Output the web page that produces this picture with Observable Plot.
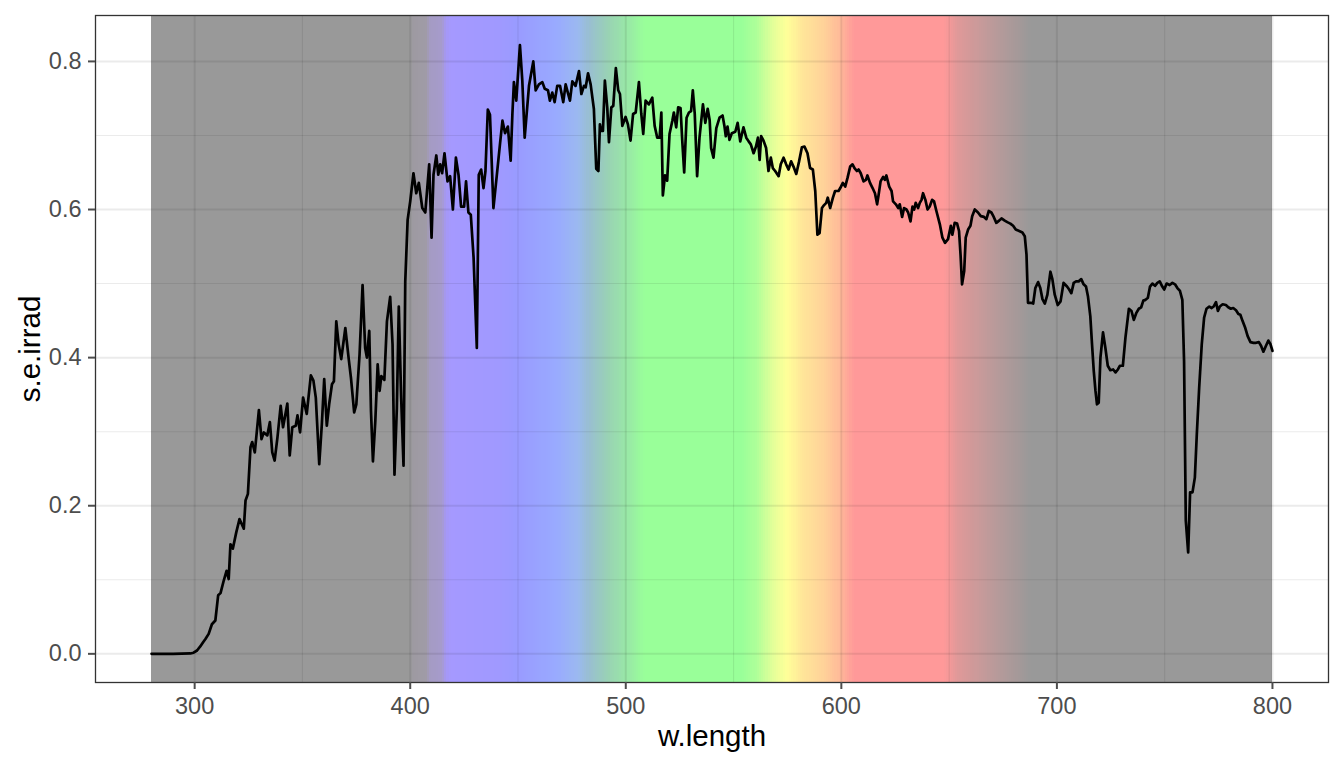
<!DOCTYPE html>
<html>
<head>
<meta charset="utf-8">
<script src="https://cdn.jsdelivr.net/npm/d3@7"></script>
<script src="https://cdn.jsdelivr.net/npm/@observablehq/plot@0.6"></script>
<style>
  html, body { margin: 0; padding: 0; background: #ffffff; }
  #chart { width: 1344px; height: 768px; }
</style>
</head>
<body>
<div id="chart"></div>
<script>
// Wavelength (nm) and spectral energy irradiance
const wl = [280, 290, 298, 299.5, 301.1, 302.6, 304, 305, 306.5, 308, 309.6, 310.9, 312, 313.5, 314.8, 315.8, 316.6, 317.7, 319.3, 320.8, 322.8, 323.6, 324.7, 325.9, 326.7, 327.9, 329.8, 331, 332.1, 333.7, 334.9, 336, 337.1, 338.4, 339.9, 341, 343, 344.1, 345.3, 346.9, 347.7, 348.9, 350.3, 352, 353.9, 355.1, 356.2, 357.8, 359, 360.1, 361.3, 362.4, 363.7, 364.6, 365.7, 366.8, 368, 369.9, 371.4, 372.5, 374, 375, 376.5, 377.9, 379.1, 379.9, 381, 381.8, 382.7, 383.8, 384.9, 385.8, 386.6, 388, 389.2, 390.7, 391.8, 392.7, 393.8, 394.7, 395.8, 396.9, 397.7, 398.8, 400, 401.5, 402.8, 404, 405.6, 407, 408.8, 409.9, 410.8, 412.1, 413, 413.9, 414.8, 415.9, 417.3, 418.5, 419.8, 421.2, 422.4, 423.6, 425, 425.9, 427, 428.1, 429.4, 430.9, 431.8, 432.9, 434, 434.9, 436, 437, 438.6, 440.2, 441.7, 442.8, 444, 445.3, 446.6, 447.4, 448.1, 449.2, 450.9, 452, 453.1, 455.1, 457.1, 458.2, 459.7, 461.3, 462.4, 463.9, 464.8, 465.9, 467, 468.2, 469.5, 471, 472.1, 474.1, 475.2, 476.7, 478.3, 479.4, 480.6, 481.4, 482.5, 483.7, 485.2, 486.3, 487.3, 488, 488.6, 489.4, 490.3, 491.4, 492.2, 493.3, 494.2, 495.4, 496.5, 497.3, 498.4, 499.9, 501, 502.2, 503.4, 504.6, 506.1, 507.2, 508.1, 509.2, 510.7, 512.3, 513.4, 514.6, 515.7, 516.5, 517.2, 518.2, 519.2, 520.3, 521.6, 522.3, 523.4, 524.3, 525.4, 526.2, 527.1, 528.2, 529.3, 530.3, 531.1, 532, 533.1, 534.2, 535.8, 536.9, 538, 538.9, 539.6, 540.7, 542, 543.5, 544.9, 545.8, 546.4, 547.2, 548.1, 549.2, 550.8, 551.9, 553.1, 554.6, 555.9, 557, 558, 559.3, 560.4, 561.3, 562.1, 562.8, 563.9, 565.1, 566.2, 567.3, 568.2, 569.3, 570.9, 571.9, 573.2, 574.4, 575.5, 576.7, 577.8, 579.1, 580.4, 581.7, 582.9, 584.3, 585.5, 586.8, 587.9, 588.9, 589.9, 591, 592, 593, 593.7, 594.8, 596.1, 597.1, 598.7, 599.5, 600.7, 601.8, 602.9, 604.1, 605.2, 606.1, 607.2, 608, 609, 610.3, 611.4, 612.1, 613.3, 614.5, 615.6, 616.6, 617.3, 618.2, 619.4, 620.2, 620.9, 622.2, 623.3, 624, 625.3, 626.4, 627.1, 628.2, 629.1, 630.2, 631, 632.1, 633, 633.8, 634.5, 635.6, 636.4, 637.2, 637.9, 639, 640, 641, 642.1, 643, 644.1, 645.7, 646.9, 648.1, 649.5, 650.8, 651.5, 652.6, 653.7, 654.6, 655.3, 656, 657, 657.7, 658.8, 659.9, 660.7, 661.9, 663.4, 664.7, 666.2, 667.3, 668.4, 669.6, 670.7, 671.9, 673.2, 674.3, 675.8, 677, 678.4, 679.7, 680.9, 682.5, 684, 685.1, 685.9, 686.6, 687.9, 689, 690, 691.3, 692.3, 693.3, 694.4, 695.6, 697, 697.9, 699, 700.4, 701.7, 703.1, 704.7, 705.7, 706.7, 707.8, 708.9, 710.1, 711.3, 712.4, 713.5, 714.4, 715.5, 716.3, 717.1, 717.9, 718.6, 719.4, 720.2, 721.4, 722.5, 723.6, 724.8, 726.1, 727.2, 728.3, 729.2, 730.6, 731.8, 733.4, 734.6, 735.7, 736.8, 738, 739.1, 740.1, 741.1, 742.2, 743.2, 744.3, 745.5, 746.6, 747.7, 748.9, 749.8, 750.9, 752.3, 753.6, 754.8, 755.9, 757.1, 758.2, 759, 759.8, 760.9, 761.8, 762.9, 764, 764.9, 766, 767.2, 768.3, 769.4, 770.7, 771.8, 772.7, 773.8, 774.7, 775.6, 776.9, 778.4, 779.5, 780.7, 781.8, 783.1, 784.2, 785.1, 786.2, 787.4, 788.5, 789.8, 791.2, 792.4, 793.7, 794.7, 795.8, 797, 798.1, 799.1, 800];

const irrad = [0, 0, 0.0005, 0.0015, 0.0045, 0.01, 0.016, 0.02, 0.027, 0.04, 0.045, 0.079, 0.082, 0.099, 0.112, 0.101, 0.148, 0.142, 0.164, 0.182, 0.169, 0.207, 0.216, 0.279, 0.286, 0.272, 0.329, 0.29, 0.299, 0.295, 0.313, 0.272, 0.261, 0.292, 0.335, 0.306, 0.338, 0.268, 0.306, 0.308, 0.322, 0.299, 0.346, 0.324, 0.376, 0.369, 0.346, 0.256, 0.31, 0.371, 0.308, 0.337, 0.364, 0.368, 0.449, 0.418, 0.398, 0.44, 0.4, 0.373, 0.326, 0.337, 0.404, 0.498, 0.413, 0.4, 0.436, 0.328, 0.26, 0.314, 0.391, 0.355, 0.375, 0.37, 0.449, 0.482, 0.418, 0.242, 0.332, 0.469, 0.346, 0.254, 0.503, 0.586, 0.611, 0.649, 0.622, 0.636, 0.602, 0.596, 0.661, 0.562, 0.647, 0.673, 0.647, 0.661, 0.649, 0.676, 0.638, 0.645, 0.6, 0.67, 0.647, 0.604, 0.604, 0.638, 0.596, 0.593, 0.535, 0.413, 0.647, 0.654, 0.629, 0.652, 0.735, 0.728, 0.602, 0.647, 0.69, 0.72, 0.703, 0.712, 0.666, 0.729, 0.772, 0.747, 0.822, 0.774, 0.697, 0.767, 0.8, 0.761, 0.769, 0.772, 0.763, 0.761, 0.747, 0.758, 0.745, 0.767, 0.767, 0.745, 0.769, 0.747, 0.773, 0.767, 0.787, 0.756, 0.767, 0.765, 0.784, 0.769, 0.736, 0.655, 0.652, 0.715, 0.706, 0.706, 0.774, 0.738, 0.691, 0.738, 0.74, 0.791, 0.761, 0.756, 0.713, 0.725, 0.715, 0.693, 0.729, 0.731, 0.772, 0.729, 0.702, 0.747, 0.742, 0.751, 0.713, 0.697, 0.697, 0.731, 0.619, 0.646, 0.639, 0.702, 0.72, 0.731, 0.711, 0.738, 0.737, 0.693, 0.65, 0.724, 0.731, 0.733, 0.761, 0.729, 0.645, 0.697, 0.742, 0.717, 0.736, 0.721, 0.683, 0.67, 0.71, 0.724, 0.727, 0.712, 0.699, 0.712, 0.694, 0.703, 0.705, 0.717, 0.692, 0.711, 0.697, 0.692, 0.688, 0.676, 0.685, 0.697, 0.667, 0.699, 0.693, 0.683, 0.652, 0.67, 0.656, 0.652, 0.645, 0.661, 0.67, 0.661, 0.654, 0.665, 0.658, 0.648, 0.665, 0.684, 0.685, 0.676, 0.656, 0.654, 0.625, 0.566, 0.568, 0.602, 0.606, 0.609, 0.616, 0.602, 0.616, 0.625, 0.625, 0.629, 0.636, 0.631, 0.643, 0.658, 0.661, 0.656, 0.652, 0.654, 0.649, 0.638, 0.64, 0.646, 0.636, 0.629, 0.622, 0.607, 0.62, 0.638, 0.644, 0.64, 0.646, 0.631, 0.625, 0.611, 0.607, 0.602, 0.607, 0.59, 0.602, 0.6, 0.596, 0.584, 0.604, 0.6, 0.609, 0.602, 0.609, 0.613, 0.622, 0.613, 0.6, 0.604, 0.613, 0.611, 0.598, 0.58, 0.562, 0.555, 0.56, 0.578, 0.566, 0.582, 0.581, 0.571, 0.539, 0.499, 0.517, 0.562, 0.573, 0.578, 0.591, 0.6, 0.596, 0.591, 0.59, 0.587, 0.598, 0.596, 0.59, 0.582, 0.585, 0.588, 0.585, 0.583, 0.581, 0.578, 0.573, 0.571, 0.569, 0.564, 0.539, 0.474, 0.474, 0.473, 0.494, 0.502, 0.494, 0.479, 0.473, 0.485, 0.516, 0.506, 0.485, 0.471, 0.476, 0.501, 0.496, 0.492, 0.487, 0.501, 0.503, 0.503, 0.506, 0.499, 0.496, 0.483, 0.456, 0.418, 0.382, 0.355, 0.337, 0.339, 0.4, 0.434, 0.413, 0.389, 0.383, 0.384, 0.38, 0.384, 0.389, 0.389, 0.427, 0.466, 0.463, 0.451, 0.46, 0.466, 0.468, 0.477, 0.478, 0.481, 0.496, 0.5, 0.497, 0.501, 0.503, 0.496, 0.492, 0.5, 0.498, 0.501, 0.499, 0.494, 0.49, 0.478, 0.395, 0.18, 0.137, 0.218, 0.218, 0.238, 0.296, 0.359, 0.418, 0.454, 0.466, 0.469, 0.467, 0.469, 0.475, 0.463, 0.469, 0.472, 0.471, 0.468, 0.466, 0.467, 0.464, 0.459, 0.458, 0.449, 0.44, 0.429, 0.421, 0.42, 0.42, 0.421, 0.416, 0.408, 0.416, 0.423, 0.418, 0.409];

// Wavelength colour guide (colours as seen on white at 40% opacity)
const guideStops = [280, 400, 401, 408, 409, 415, 417, 419, 441, 450, 468, 478, 483, 492, 502, 509, 554, 561, 568, 575, 582, 592, 600, 606, 648, 654, 670, 688, 800];
const guideColors = ["#999999", "#999999", "#9D9AA0", "#A09BA8", "#A49BC2", "#A69BCC", "#A597F6", "#A599FF", "#A099FF", "#999BFF", "#99AAFF", "#9BB9F0", "#99BED2", "#99D2B4", "#99EBA5", "#99FF99", "#99FF99", "#AFFF99", "#E1FF99", "#FFFF99", "#FFE699", "#FFD299", "#FFB899", "#FF9999", "#FF9999", "#E09999", "#BC9A9A", "#999999", "#999999"];
const guideRange = [280, 800];

const xTicks = [300, 400, 500, 600, 700, 800];
const xMinor = [350, 450, 550, 650, 750];
const yTicks = [0, 0.2, 0.4, 0.6, 0.8];
const yMinor = [0.1, 0.3, 0.5, 0.7];
const xTitle = "w.length";
const yTitle = "s.e.irrad";

const spectrum = wl.map((w, i) => ({w, v: irrad[i]}));
const bands = d3.range(guideRange[0], guideRange[1]);

const chart = Plot.plot({
  width: 1344,
  height: 768,
  marginLeft: 95,
  marginRight: 16,
  marginTop: 15,
  marginBottom: 86,
  style: {fontFamily: "'Liberation Sans', Arial, sans-serif", fontSize: "23px", background: "#ffffff", overflow: "visible"},
  x: {domain: [254, 826], label: null},
  y: {domain: [-0.0387, 0.862], label: null},
  color: {type: "linear", domain: guideStops, range: guideColors, interpolate: "rgb", legend: false},
  marks: [
    Plot.rect(bands, {x1: d => d, x2: d => Math.min(d + 1.6, guideRange[1]), fill: d => d + 0.5, shapeRendering: "crispEdges"}),
    Plot.gridX(xMinor, {stroke: "#000", strokeOpacity: 0.078, strokeWidth: 1.1}),
    Plot.gridY(yMinor, {stroke: "#000", strokeOpacity: 0.078, strokeWidth: 1.1}),
    Plot.gridX(xTicks, {stroke: "#000", strokeOpacity: 0.078, strokeWidth: 2}),
    Plot.gridY(yTicks, {stroke: "#000", strokeOpacity: 0.078, strokeWidth: 2}),
    Plot.line(spectrum, {x: "w", y: "v", stroke: "#000", strokeWidth: 2.7, strokeLinejoin: "round"}),
    Plot.frame({stroke: "#333333", strokeWidth: 1.3}),
    Plot.axisX(xTicks, {tickSize: 7, tickPadding: 8, fontSize: 23.5, color: "#4d4d4d", strokeWidth: 2, label: null}),
    Plot.axisY(yTicks, {tickSize: 7, tickPadding: 7, fontSize: 23.5, color: "#4d4d4d", strokeWidth: 2, tickFormat: d3.format(".1f"), label: null}),
    Plot.text([xTitle], {frameAnchor: "bottom", lineAnchor: "bottom", dy: 63, fontSize: 29.5, fill: "#000"}),
    Plot.text([yTitle], {frameAnchor: "left", textAnchor: "middle", lineAnchor: "middle", dx: -65, rotate: -90, fontSize: 29.5, fill: "#000"})
  ]
});
document.getElementById("chart").appendChild(chart);
</script>
</body>
</html>
